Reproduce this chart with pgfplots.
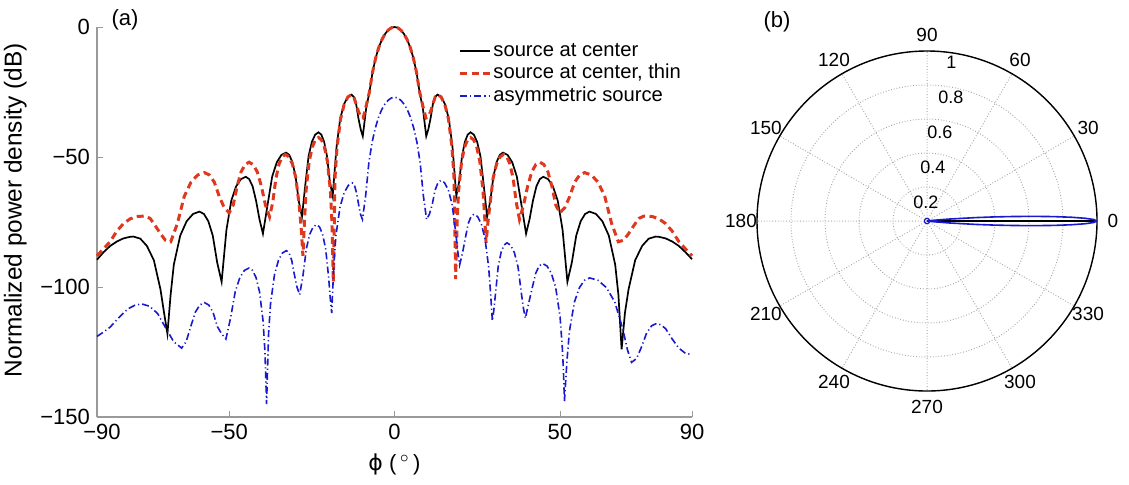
\documentclass[border=0pt]{standalone}
\usepackage{pgfplots}
\pgfplotsset{compat=1.18}
\usepgfplotslibrary{polar}
\usetikzlibrary{calc}
\usepackage{fontspec}
\setmainfont{Liberation Sans}
\newfontfamily\dv{DejaVu Sans}
\newcommand\fsz{\fontsize{11}{13}\selectfont}
\newcommand\lsz{\fontsize{10.1}{12}\selectfont}
\newcommand\psz{\fontsize{9.5}{11}\selectfont}
\definecolor{myred}{RGB}{222,56,30}
\definecolor{myblue}{RGB}{25,25,205}
\begin{document}
\begin{tikzpicture}[font=\fsz]
\useasboundingbox (0,0) rectangle (564.5pt,242pt);
% (a) pattern in dB
\begin{axis}[
 at={(48.5pt,33.5pt)}, anchor=south west,
 scale only axis, width=297.5pt, height=195pt,
 xmin=-90, xmax=90, ymin=-150, ymax=0,
 axis x line=bottom, axis y line=left,
 axis line style={-, gray!80, line width=0.6pt},
 xtick={-90,-50,0,50,90}, ytick={-150,-100,-50,0},
 xticklabels={\hspace*{5pt}−90,−50,0,50,90}, yticklabels={−150,−100,−50,0},
 tick align=inside, major tick length=3pt, tick style={gray!80},
 tick label style={font=\fsz},
 xlabel={{\dv ϕ} (\,$^{\circ}$\,)},
 ylabel={Normalized power density (dB)},
 xlabel style={font=\fsz},
 ylabel style={font=\fontsize{12.2}{14}\selectfont, at={(ticklabel cs:0.53)}},
 clip=false,
 legend cell align=left,
 legend style={at={(rel axis cs:0.597,0.979)}, anchor=north west,
   draw=none, fill=none, font=\lsz, row sep=0pt,
   nodes={inner sep=0.9pt, text height=7.5pt, text depth=2pt}},
 legend image code/.code={\draw[#1] (0pt,0pt) -- (15pt,0pt);},
]
\addplot[black, line width=0.85pt] coordinates {
(-90,-89.5) (-88,-86.6) (-86,-84.2) (-84,-82.5) (-82,-81.3) (-80,-80.7) (-79,-80.6)
(-76.9,-81.4) (-74.9,-84.2) (-72.8,-89.7) (-70.8,-100.9) (-69.7,-110) (-68.7,-118)
(-67.73,-103) (-66.76,-91.4) (-64.82,-80.2) (-62.88,-74.7) (-60.94,-71.9) (-59,-71)
(-57.66,-71.9) (-56.32,-74.7) (-54.98,-80.2) (-53.64,-90.6) (-52.3,-98)
(-50.84,-78) (-49.38,-66.8) (-47.92,-61.3) (-46.46,-58.5) (-45,-57.6)
(-43.96,-58.5) (-42.92,-61.3) (-41.88,-66.8) (-40.84,-74) (-39.8,-79.5)
(-38.4,-68.4) (-37,-57.5) (-35.6,-52) (-34.2,-49.2) (-32.8,-48.3)
(-31.84,-49.2) (-30.88,-52) (-29.92,-57.5) (-28.96,-67) (-28,-73)
(-27,-60.9) (-26,-49.7) (-25,-44.2) (-24,-41.4) (-23,-40.5)
(-22.14,-41.4) (-21.28,-44.2) (-20.42,-49.7) (-19.56,-59.5) (-18.7,-65)
(-17.56,-46.4) (-16.42,-35.2) (-15.28,-29.7) (-14.14,-26.9) (-13,-26)
(-12.3,-26.9) (-11.6,-29.7) (-10.9,-35.2) (-10.2,-39.5) (-9.6,-42)
(-8.55,-31) (-7.6,-25.2) (-6.65,-17.4) (-5.7,-11.9) (-4.75,-7.8) (-3.8,-4.8)
(-2.85,-2.65) (-1.9,-1.16) (-0.95,-0.29) (0,0)
(0.95,-0.29) (1.9,-1.16) (2.85,-2.65) (3.8,-4.8) (4.75,-7.8) (5.7,-11.9)
(6.65,-17.4) (7.6,-25.2) (8.55,-31) (9.6,-42)
(10.2,-39.5) (10.9,-35.2) (11.6,-29.7) (12.3,-26.9) (13,-26)
(14.14,-26.9) (15.28,-29.7) (16.42,-35.2) (17.56,-46.4) (18.7,-65)
(19.56,-59.5) (20.42,-49.7) (21.28,-44.2) (22.14,-41.4) (23,-40.5)
(24,-41.4) (25,-44.2) (26,-49.7) (27,-60.9) (28,-73)
(28.96,-67) (29.92,-57.5) (30.88,-52) (31.84,-49.2) (32.8,-48.3)
(34.2,-49.2) (35.6,-52) (37,-57.5) (38.4,-68.4) (39.8,-79.5)
(40.84,-74) (41.88,-66.8) (42.92,-61.3) (43.96,-58.5) (45,-57.6)
(46.46,-58.5) (47.92,-61.3) (49.38,-66.8) (50.84,-78) (52.3,-98)
(53.64,-90.6) (54.98,-80.2) (56.32,-74.7) (57.66,-71.9) (59,-71)
(60.94,-71.9) (62.88,-74.7) (64.82,-80.2) (66.76,-91.4) (67.73,-103) (68.7,-124)
(69.7,-110) (70.8,-100.9) (72.8,-89.7) (74.9,-84.2) (76.9,-81.4) (79,-80.6)
(80,-80.7) (82,-81.3) (84,-82.5) (86,-84.2) (88,-86.6) (90,-89.3)
};
\addlegendentry{source at center}
\addplot[myred, line width=1.5pt, dash pattern=on 3.5pt off 2.2pt] coordinates {
(-90,-88) (-88,-85.3) (-86,-82.5) (-84,-78.5) (-82,-75.6) (-80,-73.8) (-78,-72.9)
(-75.5,-72.7) (-73.94,-73.6) (-72.38,-76.4) (-70.8,-79.5) (-69.3,-82) (-67.7,-82.6)
(-65.66,-75.5) (-63.62,-65.2) (-61.58,-59.7) (-59.54,-56.9) (-57.5,-56)
(-56,-56.9) (-54.5,-59.7) (-53,-65.2) (-51.5,-69.5) (-50,-71.5)
(-48.8,-68.5) (-47.6,-61.2) (-46.4,-55.7) (-45.2,-52.9) (-44,-52)
(-42.76,-52.9) (-41.52,-55.7) (-40.28,-61.2) (-39.04,-68.5) (-37.8,-73)
(-36.84,-67.5) (-35.88,-58.2) (-34.92,-52.7) (-33.96,-49.9) (-33,-49)
(-31.94,-49.9) (-30.88,-52.7) (-29.82,-58.2) (-28.76,-69.4) (-28.2,-78) (-27.7,-88)
(-27.23,-74.5) (-26.76,-62.9) (-25.82,-51.7) (-24.88,-46.2) (-23.94,-43.4) (-23,-42.5)
(-22.1,-43.4) (-21.2,-46.2) (-20.3,-51.7) (-19.4,-62.9) (-18.95,-74.5) (-18.5,-98)
(-18,-58) (-17.4,-46.4) (-16.3,-35.2) (-15.2,-29.7) (-14.1,-26.9) (-13,-26)
(-12.3,-26.9) (-11.6,-29.7) (-10.9,-32.5) (-10.2,-34.5) (-9.5,-35)
(-8.6,-30.5) (-7.6,-25) (-6.65,-17.4) (-5.7,-11.9) (-4.75,-7.8) (-3.8,-4.8)
(-2.85,-2.65) (-1.9,-1.16) (-0.95,-0.29) (0,0)
(0.95,-0.29) (1.9,-1.16) (2.85,-2.65) (3.8,-4.8) (4.75,-7.8) (5.7,-11.9)
(6.65,-17.4) (7.6,-25) (8.6,-30.5) (9.5,-35)
(10.2,-34.5) (10.9,-32.5) (11.6,-29.7) (12.3,-26.9) (13,-26)
(14.1,-26.9) (15.2,-29.7) (16.3,-35.2) (17.4,-46.4) (18,-58) (18.5,-97)
(18.95,-74.5) (19.4,-62.9) (20.3,-51.7) (21.2,-46.2) (22.1,-43.4) (23,-42.5)
(23.94,-43.4) (24.88,-46.2) (25.82,-51.7) (26.76,-62.9) (27.23,-72) (27.7,-83)
(28.2,-76) (28.76,-69.4) (29.82,-58.2) (30.88,-52.7) (31.94,-49.9) (33,-49)
(33.96,-49.9) (34.92,-52.7) (35.88,-58.2) (36.84,-67.5) (37.8,-74)
(39.04,-68.5) (40.28,-61.2) (41.52,-55.7) (42.76,-52.9) (44,-52)
(45.2,-52.9) (46.4,-55.7) (47.6,-61.2) (48.8,-68.5) (50,-71.5)
(51.5,-69.5) (53,-65.2) (54.5,-59.7) (56,-56.9) (57.5,-56)
(59.54,-56.9) (61.58,-59.7) (63.62,-65.2) (65.66,-75.5) (67.7,-82.6)
(69.3,-82) (70.8,-79.5) (72.38,-76.4) (73.94,-73.6) (75.5,-72.7)
(78,-72.9) (80,-73.8) (82,-75.6) (84,-78.5) (86,-82.5) (88,-85.3) (90,-88)
};
\addlegendentry{source at center, thin}
\addplot[myblue, line width=0.8pt, dash pattern=on 3.5pt off 1.5pt on 0.6pt off 1.5pt] coordinates {
(-90,-119) (-88,-117.3) (-86,-115.4) (-84,-112.6) (-82,-110) (-80.5,-108.3) (-78.5,-107)
(-76.5,-106.5) (-74.08,-107.4) (-71.66,-110.2) (-69.24,-115.7) (-66.82,-121) (-64.4,-123.5)
(-63.02,-121) (-61.64,-115.2) (-60.26,-109.7) (-58.88,-106.9) (-57.5,-106)
(-56.2,-106.9) (-54.9,-109.7) (-53.6,-115.2) (-52.3,-118) (-51,-120)
(-49.6,-112) (-48.2,-101.9) (-46.8,-96.4) (-45.4,-93.6) (-44,-92.7)
(-42.94,-93.6) (-41.88,-96.4) (-40.82,-101.9) (-39.76,-113.1) (-39.2,-124.7) (-38.7,-145)
(-38.1,-118) (-37.5,-106.4) (-36.3,-95.2) (-35.1,-89.7) (-33.9,-86.9) (-32.7,-86)
(-31.9,-86.9) (-31.1,-89.7) (-30.3,-95.2) (-29.5,-100) (-28.7,-103)
(-27.68,-95.5) (-26.66,-85.2) (-25.64,-79.7) (-24.62,-76.9) (-23.6,-76)
(-22.68,-76.9) (-21.76,-79.7) (-20.84,-85.2) (-19.92,-96.4) (-19.46,-104) (-19,-110)
(-18.37,-92) (-17.74,-80.4) (-16.48,-69.2) (-15.22,-63.7) (-13.96,-60.9) (-12.7,-60)
(-12.1,-60.9) (-11.5,-63.7) (-10.9,-68) (-10.3,-72) (-9.7,-74)
(-8.73,-64.9) (-7.76,-52.2) (-6.79,-44.4) (-5.82,-38.9) (-4.85,-34.8) (-3.88,-31.8)
(-2.91,-29.7) (-1.94,-28.2) (-0.97,-27.3) (0,-27)
(0.97,-27.3) (1.94,-28.2) (2.91,-29.7) (3.88,-31.8) (4.85,-34.8) (5.82,-38.9)
(6.79,-44.4) (7.76,-52.2) (8.73,-64.9) (9.7,-74)
(10.56,-72) (11.42,-68.2) (12.28,-62.7) (13.14,-59.9) (14,-59)
(15.14,-59.9) (16.28,-62.7) (17.42,-68.2) (18.56,-79.4) (19.1,-86) (19.7,-91.5)
(20.56,-87) (21.42,-81.2) (22.28,-75.7) (23.14,-72.9) (24,-72)
(25.12,-72.9) (26.24,-75.7) (27.36,-81.2) (28.48,-92.4) (29.04,-102) (29.6,-113)
(30.04,-109) (30.48,-103.4) (31.36,-92.2) (32.24,-86.7) (33.12,-83.9) (34,-83)
(35.12,-83.9) (36.24,-86.7) (37.36,-92.2) (38.48,-103.4) (39.04,-108.5) (39.6,-112)
(40.1,-109) (40.64,-106) (41.68,-100.2) (42.72,-94.7) (43.76,-91.9) (44.8,-91)
(46.12,-91.9) (47.44,-94.7) (48.76,-100.2) (50.08,-111.4) (50.74,-123) (51.1,-132) (51.4,-144)
(52.16,-128.5) (52.92,-116.9) (54.44,-105.7) (55.96,-100.2) (57.48,-97.4) (59,-96.5)
(61.54,-97.4) (64.08,-100.2) (66.62,-105.7) (69.16,-116.6) (70.43,-124) (71.7,-129)
(73.22,-127.5) (74.74,-123) (76.26,-117.7) (77.78,-114.9) (79.3,-114)
(80.5,-114.5) (82,-116) (84,-120) (86,-123.5) (88,-125.5) (90,-126)
};
\addlegendentry{asymmetric source}
\end{axis}
\node at (62.5pt,232pt) {(a)};
% (b) polar pattern, linear scale
\begin{polaraxis}[
 at={(463.5pt,131.5pt)}, anchor=center,
 scale only axis, width=170pt, height=170pt,
 ymin=0, ymax=1,
 xtick={0,30,...,330}, xticklabels={},
 ytick={0.2,0.4,0.6,0.8,1}, yticklabels={},
 major tick length=0pt,
 grid=major, major grid style={gray!70, densely dotted, line width=0.5pt},
 axis line style={black, line width=0.7pt},
]
\addplot[myblue, line width=0.8pt] coordinates {
(-9.5,0) (-8,0.00105) (-7,0.0102) (-6,0.0454) (-5,0.132) (-4,0.289) (-3.5,0.392)
(-3,0.505) (-2.5,0.627) (-2,0.744) (-1.5,0.848) (-1,0.929) (-0.5,0.982) (0,1)
(0.5,0.982) (1,0.929) (1.5,0.848) (2,0.744) (2.5,0.627) (3,0.505) (3.5,0.392)
(4,0.289) (5,0.132) (6,0.0454) (7,0.0102) (8,0.00105) (9.5,0)
};
\addplot[myblue, line width=0.6pt] coordinates {
(10,0.015) (40,0.015) (70,0.015) (100,0.015) (130,0.015) (160,0.015) (190,0.015)
(220,0.015) (250,0.015) (280,0.015) (310,0.015) (340,0.015) (350,0.015)
};
\end{polaraxis}
\foreach \a in {0,30,...,330} {
  \node[inner sep=0pt, font=\psz] at ($(463.5pt,131.5pt)+(\a:93pt)$) {\a};
}
\begin{scope}[every node/.style={anchor=west, inner sep=0pt, font=\fontsize{9}{10}\selectfont}]
\node at (456.5pt,141pt) {0.2};
\node at (460pt,158.5pt) {0.4};
\node at (463.5pt,175.75pt) {0.6};
\node at (469pt,193.25pt) {0.8};
\node at (473pt,210.75pt) {1};
\end{scope}
\node at (388.5pt,231pt) {(b)};
\end{tikzpicture}
\end{document}
